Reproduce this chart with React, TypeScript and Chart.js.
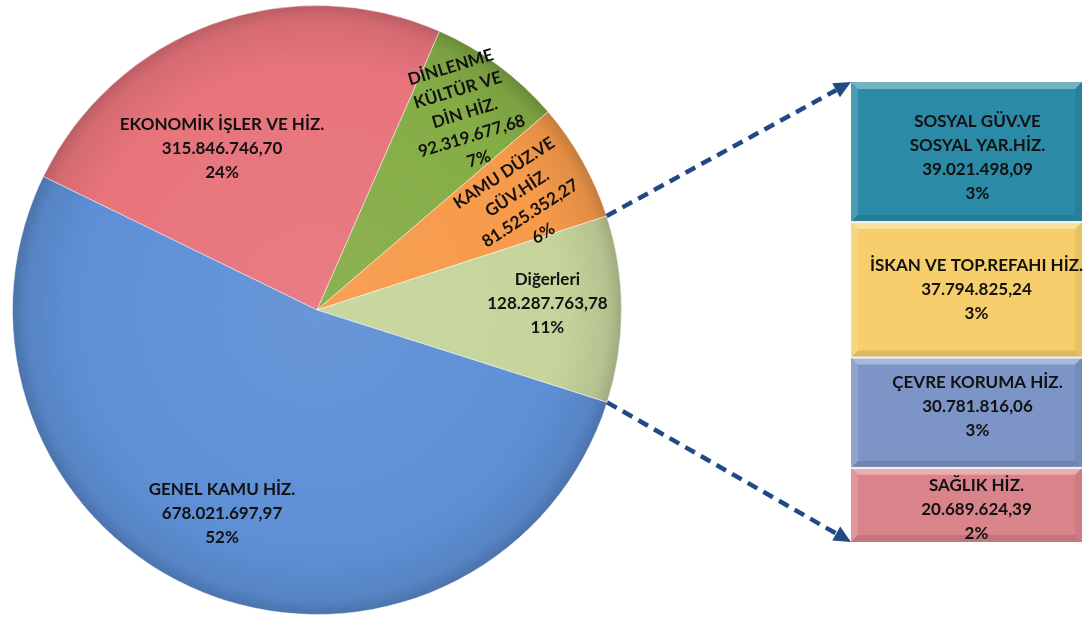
import React, { useEffect, useRef } from "react";
import { Chart, registerables } from "chart.js";
Chart.register(...registerables);

// ---- Data ----
const pieNames: string[][] = [
  ["EKONOMİK İŞLER VE HİZ."],
  ["DİNLENME", "KÜLTÜR VE", "DİN HİZ."],
  ["KAMU DÜZ.VE", "GÜV.HİZ."],
  ["Diğerleri"],
  ["GENEL KAMU HİZ."],
];
const pieValues = [315846746.7, 92319677.68, 81525352.27, 128287763.78, 678021697.97];
const piePercents = ["24%", "7%", "6%", "11%", "52%"];

const barNames: string[][] = [
  ["SAĞLIK HİZ."],
  ["ÇEVRE KORUMA HİZ."],
  ["İSKAN VE TOP.REFAHI HİZ."],
  ["SOSYAL GÜV.VE", "SOSYAL YAR.HİZ."],
];
const barValues = [20689624.39, 30781816.06, 37794825.24, 39021498.09];
const barPercents = ["2%", "3%", "3%", "3%"];

// ---- Styles ----
const pieColors = ["#e8747c", "#85ad46", "#f79a4a", "#c6d49c", "#5e8fd5"];
const barColors = ["#d9848b", "#7d94c6", "#f6cf6c", "#2b8aa6"];
// label placement: angle (deg, clockwise from top), radius fraction, rotation
const pieLabelPlace = [
  { a: -30.4, r: 0.616, rot: 0 },
  { a: 36.9, r: 0.808, rot: -17 },
  { a: 62.7, r: 0.764, rot: -33 },
  { a: 88.5, r: 0.757, rot: 0 },
  { a: 205, r: 0.738, rot: 0 },
];
const barLabelShift = [
  { dx: 10, dy: 5 },
  { dx: 11, dy: -6 },
  { dx: 10, dy: 0 },
  { dx: 11, dy: 6 },
];
const FONT = "bold 17px Lato";
const LINE_H = 24;
const ARROW = "#1f4a85";

function fmt(v: number): string {
  const [i, d] = v.toFixed(2).split(".");
  return i.replace(/\B(?=(\d{3})+(?!\d))/g, ".") + "," + d;
}

function shade(hex: string, f: number): string {
  const n = parseInt(hex.slice(1), 16);
  let r = (n >> 16) & 255, g = (n >> 8) & 255, b = n & 255;
  const t = f < 0 ? 0 : 255;
  const p = Math.abs(f);
  r = Math.round((t - r) * p + r);
  g = Math.round((t - g) * p + g);
  b = Math.round((t - b) * p + b);
  return `rgb(${r},${g},${b})`;
}

function drawLines(ctx: CanvasRenderingContext2D, lines: string[], x: number, y: number, rot: number) {
  ctx.save();
  ctx.translate(x, y);
  ctx.rotate((rot * Math.PI) / 180);
  ctx.font = FONT;
  ctx.fillStyle = "#111";
  ctx.textAlign = "center";
  ctx.textBaseline = "middle";
  const start = -((lines.length - 1) * LINE_H) / 2;
  lines.forEach((l, i) => ctx.fillText(l, 0, start + i * LINE_H));
  ctx.restore();
}

export default function App() {
  const pieRef = useRef<HTMLCanvasElement>(null);
  const barRef = useRef<HTMLCanvasElement>(null);

  useEffect(() => {
    document.body.style.margin = "0";
    const pieFill = (c: any) => {
      const chart = c.chart;
      const a = chart.chartArea;
      const base = pieColors[c.dataIndex] || pieColors[0];
      if (!a) return base;
      const cx = (a.left + a.right) / 2, cy = (a.top + a.bottom) / 2;
      const r = Math.min(a.width, a.height) / 2;
      const g = chart.ctx.createRadialGradient(cx, cy, 0, cx, cy, r);
      g.addColorStop(0, shade(base, 0.06));
      g.addColorStop(0.8, base);
      g.addColorStop(0.95, shade(base, -0.08));
      g.addColorStop(1, shade(base, -0.2));
      return g;
    };

    const pieLabels = {
      id: "pieLabels",
      afterDatasetsDraw(chart: any) {
        const ctx = chart.ctx;
        const meta = chart.getDatasetMeta(0);
        meta.data.forEach((arc: any, i: number) => {
          const p = pieLabelPlace[i];
          const R = arc.outerRadius;
          const ang = (p.a * Math.PI) / 180;
          const x = arc.x + Math.sin(ang) * p.r * R;
          const y = arc.y - Math.cos(ang) * p.r * R;
          drawLines(ctx, [...pieNames[i], fmt(pieValues[i]), piePercents[i]], x, y, p.rot);
        });
      },
    };

    const pie = new Chart(pieRef.current!, {
      type: "pie",
      data: {
        labels: pieNames.map((n) => n.join(" ")),
        datasets: [
          {
            data: pieValues,
            backgroundColor: pieFill as any,
            borderColor: "rgba(255,255,255,0.45)",
            borderWidth: 1,
          },
        ],
      },
      options: {
        responsive: false,
        animation: false,
        rotation: -64,
        events: [],
        layout: { padding: { left: 12, right: 464, top: 5, bottom: 2 } },
        plugins: { legend: { display: false }, tooltip: { enabled: false } },
      },
      plugins: [pieLabels],
    });

    const barDeco = {
      id: "barDeco",
      afterDatasetsDraw(chart: any) {
        const ctx = chart.ctx;
        const total = barValues.length;
        for (let d = 0; d < total; d++) {
          const el = chart.getDatasetMeta(d).data[0];
          const left = el.x - el.width / 2, right = el.x + el.width / 2;
          const top = Math.min(el.y, el.base), bottom = Math.max(el.y, el.base);
          const bw = 7;
          ctx.save();
          ctx.fillStyle = "rgba(255,255,255,0.35)";
          ctx.beginPath();
          ctx.moveTo(left, top); ctx.lineTo(right, top);
          ctx.lineTo(right - bw, top + bw); ctx.lineTo(left + bw, top + bw);
          ctx.closePath(); ctx.fill();
          ctx.fillStyle = "rgba(255,255,255,0.15)";
          ctx.beginPath();
          ctx.moveTo(left, top); ctx.lineTo(left + bw, top + bw);
          ctx.lineTo(left + bw, bottom - bw); ctx.lineTo(left, bottom);
          ctx.closePath(); ctx.fill();
          ctx.fillStyle = "rgba(0,0,0,0.06)";
          ctx.beginPath();
          ctx.moveTo(right, top); ctx.lineTo(right - bw, top + bw);
          ctx.lineTo(right - bw, bottom - bw); ctx.lineTo(right, bottom);
          ctx.closePath(); ctx.fill();
          ctx.fillStyle = "rgba(0,0,0,0.1)";
          ctx.beginPath();
          ctx.moveTo(left, bottom); ctx.lineTo(right, bottom);
          ctx.lineTo(right - bw, bottom - bw); ctx.lineTo(left + bw, bottom - bw);
          ctx.closePath(); ctx.fill();
          if (d < total - 1) {
            ctx.fillStyle = "#fff";
            ctx.fillRect(left, top - 1, right - left, 2);
          }
          ctx.restore();
          const s = barLabelShift[d];
          drawLines(ctx, [...barNames[d], fmt(barValues[d]), barPercents[d]], el.x + s.dx, (top + bottom) / 2 + s.dy, 0);
        }
        const arc: any = pie.getDatasetMeta(0).data[3];
        const ca = chart.chartArea;
        const pts = [
          { sx: arc.x + Math.cos(arc.startAngle) * arc.outerRadius, sy: arc.y + Math.sin(arc.startAngle) * arc.outerRadius, ex: ca.left, ey: ca.top },
          { sx: arc.x + Math.cos(arc.endAngle) * arc.outerRadius, sy: arc.y + Math.sin(arc.endAngle) * arc.outerRadius, ex: ca.left, ey: ca.bottom },
        ];
        pts.forEach((p) => {
          const ang = Math.atan2(p.ey - p.sy, p.ex - p.sx);
          const head = 17, hw = 8;
          const lx = p.ex - Math.cos(ang) * head, ly = p.ey - Math.sin(ang) * head;
          ctx.save();
          ctx.strokeStyle = ARROW;
          ctx.lineWidth = 4.5;
          ctx.setLineDash([11, 7]);
          ctx.beginPath();
          ctx.moveTo(p.sx, p.sy);
          ctx.lineTo(lx, ly);
          ctx.stroke();
          ctx.setLineDash([]);
          ctx.fillStyle = ARROW;
          ctx.beginPath();
          ctx.moveTo(p.ex, p.ey);
          ctx.lineTo(lx - Math.sin(ang) * hw, ly + Math.cos(ang) * hw);
          ctx.lineTo(lx + Math.sin(ang) * hw, ly - Math.cos(ang) * hw);
          ctx.closePath();
          ctx.fill();
          ctx.restore();
        });
      },
    };

    const barTotal = barValues.reduce((a, b) => a + b, 0);
    const bar = new Chart(barRef.current!, {
      type: "bar",
      data: {
        labels: ["Diğerleri"],
        datasets: barValues.map((v, i) => ({
          label: barNames[i].join(" "),
          data: [v],
          backgroundColor: barColors[i],
          borderWidth: 0,
          barPercentage: 1,
          categoryPercentage: 1,
        })),
      },
      options: {
        responsive: false,
        animation: false,
        events: [],
        layout: { padding: { left: 851, right: 4, top: 82, bottom: 75 } },
        scales: {
          x: { stacked: true, display: false },
          y: { stacked: true, display: false, min: 0, max: barTotal },
        },
        plugins: { legend: { display: false }, tooltip: { enabled: false } },
      },
      plugins: [barDeco],
    });

    return () => {
      bar.destroy();
      pie.destroy();
    };
  }, []);

  return (
    <div style={{ position: "fixed", left: 0, top: 0, width: 1086, height: 617, background: "#fff" }}>
      <canvas ref={pieRef} width={1086} height={617} style={{ position: "absolute", left: 0, top: 0 }} />
      <canvas ref={barRef} width={1086} height={617} style={{ position: "absolute", left: 0, top: 0 }} />
    </div>
  );
}
